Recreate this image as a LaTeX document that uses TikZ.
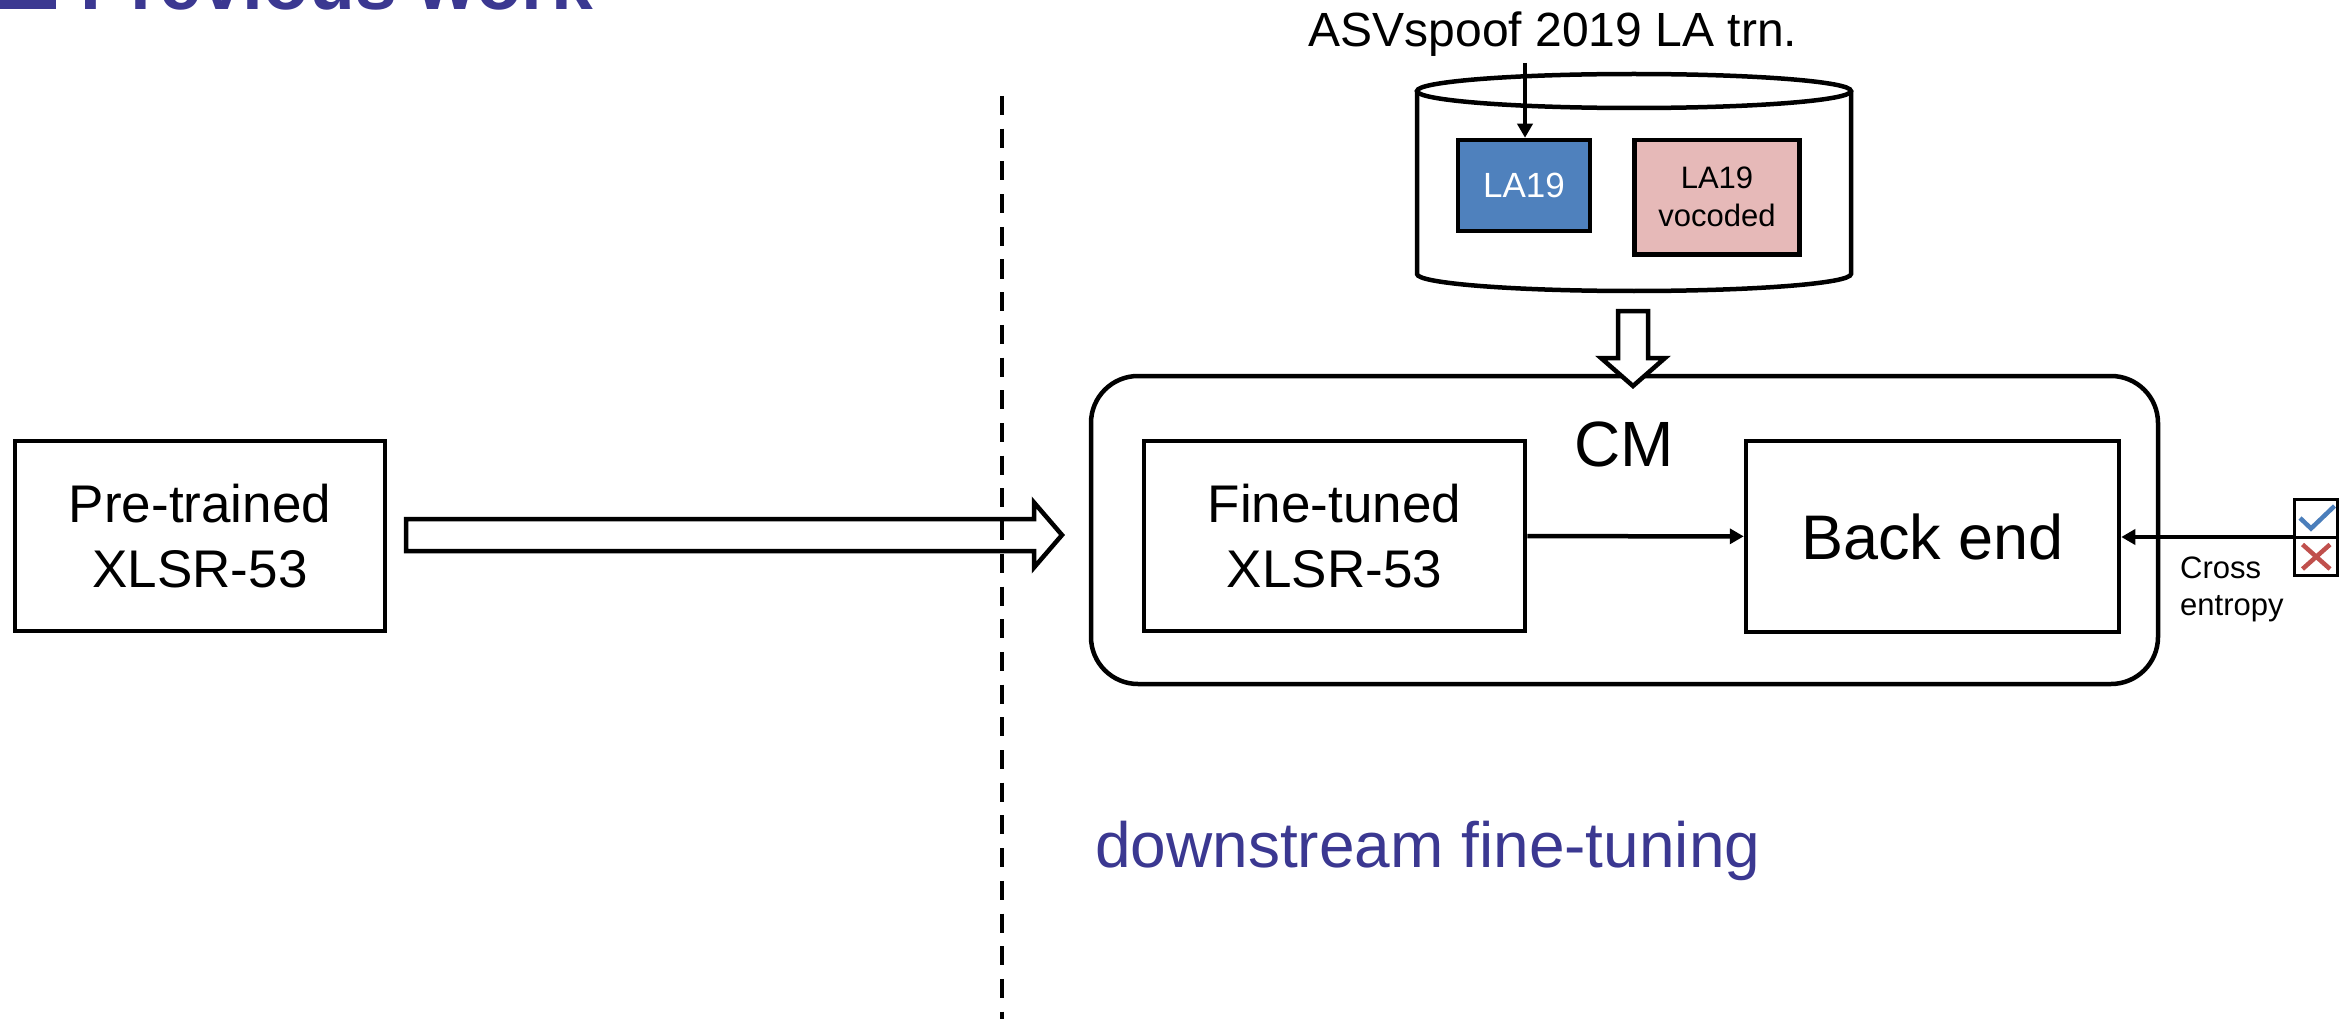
\documentclass[tikz,border=0pt]{standalone}
\usepackage{fontspec}
\setmainfont{Liberation Sans}
\usetikzlibrary{arrows.meta,calc}
\definecolor{ttl}{RGB}{59,56,145}
\definecolor{lablue}{RGB}{79,129,189}
\definecolor{lapink}{RGB}{230,185,184}
\definecolor{okblue}{RGB}{74,126,187}
\definecolor{nored}{RGB}{192,80,77}
\begin{document}
\begin{tikzpicture}[x=1pt,y=-1pt,
  box/.style={draw, line width=4.5pt, inner sep=0pt, align=center},
  thinarrow/.style={-{Triangle[length=14pt,width=15pt]}, line width=4.5pt},
  hollow/.style={draw, line width=4.5pt, line join=miter},
  label52/.style={font=\fontsize{53}{65}\selectfont},
  small31/.style={font=\fontsize{31}{37}\selectfont}]
\useasboundingbox (0,0) rectangle (2351,1019);
\clip (0,0) rectangle (2351,1019);

% title (cut off at the top)
\fill[ttl] (-20,-60) rectangle (56,9);
\node[anchor=base west, inner sep=0pt, text=ttl, font=\fontsize{75}{80}\bfseries\selectfont] (title) at (80,10) {Previous work};

% left block
\node[box, label52, minimum width=370pt, minimum height=190pt] (pre) at (200,536) {Pre-trained\\XLSR-53};

% hollow right arrow
\draw[hollow] (406,519) -- (1034,519) -- (1034,502.5) -- (1062,535) -- (1034,567.5) -- (1034,551) -- (406,551) -- cycle;

% dashed separator
\coordinate (dtop) at (1002,96);
\coordinate (dbot) at (1002,1030);
\draw[line width=4.5pt, dash pattern=on 19pt off 13.7pt] (dtop) -- (dbot);

% CM container
\node[draw, line width=4.5pt, rounded corners=47pt, minimum width=1067pt, minimum height=308pt, inner sep=0pt] (cm) at (1624.5,530) {};
\node[anchor=base, inner sep=0pt, font=\fontsize{64}{70}\selectfont] (cmlabel) at (1624.5,466) {CM};

\node[box, label52, minimum width=381pt, minimum height=190pt] (ft) at (1334.5,536) {Fine-tuned\\XLSR-53};
\node[box, font=\fontsize{63}{70}\selectfont, minimum width=373pt, minimum height=191pt] (be) at (1932.5,536.5) {Back end};
\draw[thinarrow] (ft) -- (be);

% database cylinder
\draw[line width=4.5pt] (1634,91) ellipse [x radius=217, y radius=17];
\draw[line width=4.5pt] (1417,91) -- (1417,274) arc[start angle=180, end angle=0, x radius=217, y radius=17] -- (1851,91);

\node[draw, line width=4.5pt, fill=lablue, text=white, inner sep=0pt, minimum width=132pt, minimum height=91pt, font=\fontsize{35}{40}\selectfont] (la) at (1524,185.5) {LA19};
\node[box, fill=lapink, font=\fontsize{31}{38}\selectfont, minimum width=165pt, minimum height=114.5pt] (voc) at (1717,197.25) {LA19\\vocoded};

\node[anchor=base, inner sep=0pt, font=\fontsize{48}{50}\selectfont] (asv) at (1553,47) {ASVspoof 2019 LA trn.};
\coordinate (asvin) at (1525,63);
\draw[thinarrow] (asvin) -- (asvin |- la.north);

% hollow down arrow
\draw[hollow, fill=white] (1618,311) -- (1648,311) -- (1648,358) -- (1665,358) -- (1633,386) -- (1601,358) -- (1618,358) -- cycle;

% label check boxes
\node[draw, line width=3pt, inner sep=0pt, minimum width=42.5pt, minimum height=38pt] (ok) at (2316,518.5) {};
\node[draw, line width=3pt, inner sep=0pt, minimum width=42.5pt, minimum height=38pt] (no) at (2316,556.5) {};
\draw[okblue, line width=4.5pt] (2300,518) -- (2311,528.5) -- (2334.5,506);
\draw[nored, line width=4.5pt] (2302.5,544.5) -- (2330,569) (2330,544.5) -- (2302.5,569);
\coordinate (chk) at (2295,537);
\draw[thinarrow] (chk) -- (chk -| be.east);
\node[anchor=west, align=left, inner sep=0pt, small31] (ce) at (2180,589) {Cross\\entropy};

\node[anchor=base west, inner sep=0pt, text=ttl, font=\fontsize{64}{70}\selectfont] (ds) at (1095,867) {downstream fine-tuning};
\end{tikzpicture}
\end{document}
